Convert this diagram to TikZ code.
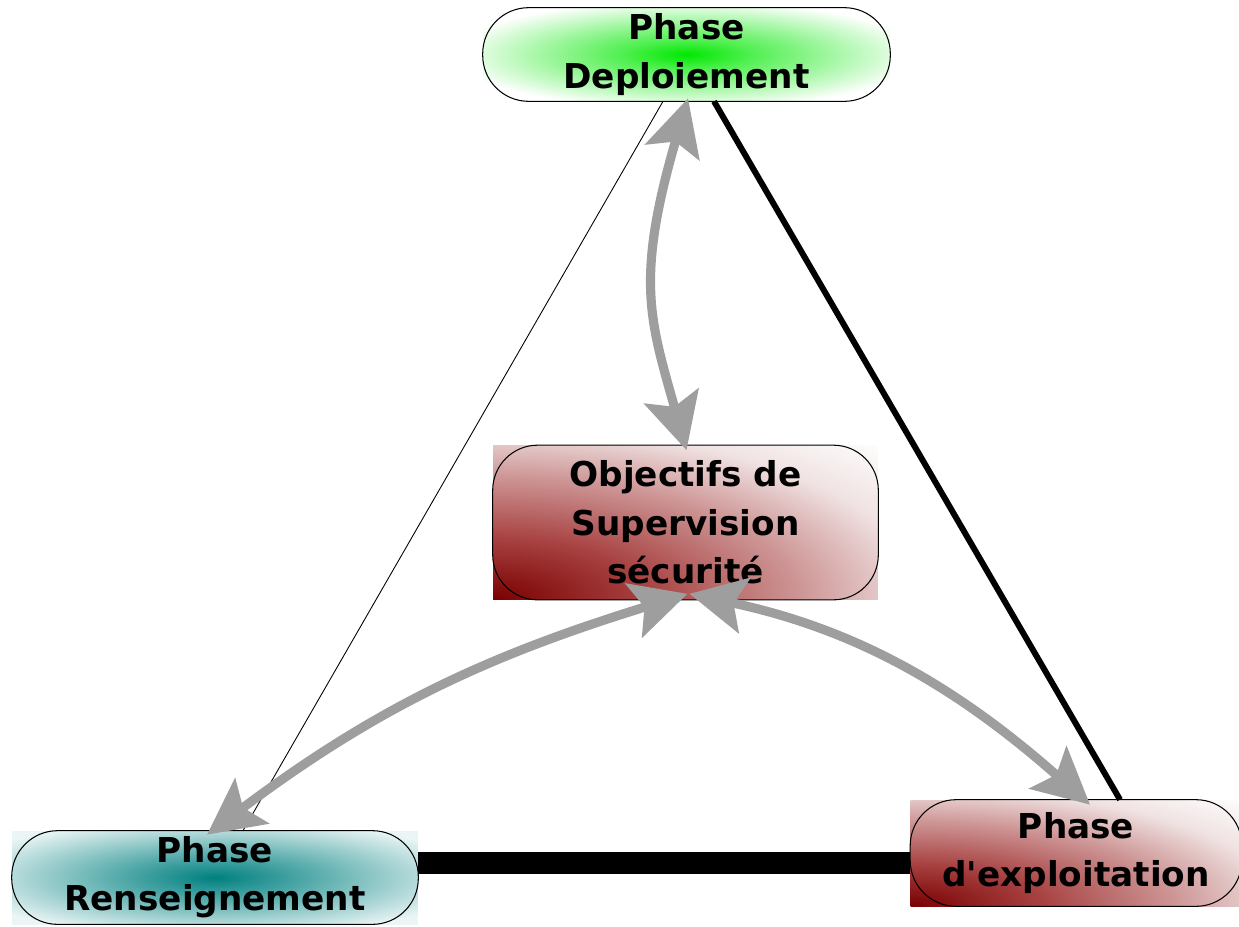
\documentclass[tikz,border=0pt]{standalone}
\usepackage{fontspec}
\setmainfont{DejaVu Sans}
\usetikzlibrary{arrows.meta,calc}
\definecolor{deepgreen}{RGB}{0,232,0}
\definecolor{deepteal}{RGB}{0,128,128}
\definecolor{deepred}{RGB}{122,0,0}
\definecolor{midred}{RGB}{168,66,66}
\definecolor{lightred}{RGB}{206,150,150}
\definecolor{palered}{RGB}{240,226,226}
\definecolor{arrowgray}{RGB}{158,158,158}
% glow shadings: 25bp is the half side of the shaded box
\pgfdeclareradialshading{greenglow}{\pgfpoint{0bp}{0bp}}{%
  color(0bp)=(deepgreen); color(8bp)=(deepgreen!68!white); color(29bp)=(white); color(50bp)=(white)}
\pgfdeclareradialshading{tealglow}{\pgfpoint{0bp}{0bp}}{%
  color(0bp)=(deepteal); color(9bp)=(deepteal!75!white); color(32bp)=(deepteal!8!white); color(50bp)=(deepteal!8!white)}
\pgfdeclareradialshading{redglow}{\pgfpoint{0bp}{0bp}}{%
  color(0bp)=(deepred); color(10bp)=(midred); color(20bp)=(lightred); color(28bp)=(palered); color(36bp)=(white); color(50bp)=(white)}
\tikzset{
  phasetext/.style={font=\bfseries\fontsize{19.5}{27.5}\selectfont, align=center, text=black, inner sep=0pt},
  pillborder/.style={draw=black, line width=0.6pt},
  greenbox/.style={shading=greenglow},
  tealbox/.style={shading=tealglow},
  redbox/.style={path picture={
      \shade[shading=redglow]
        ($(path picture bounding box.south west)!-1!(path picture bounding box.north east)$)
        rectangle (path picture bounding box.north east);}},
  linkarrow/.style={draw=arrowgray, line width=5.2pt,
    {Stealth[length=1.12cm,width=1.12cm,inset=0.22cm]}-{Stealth[length=1.12cm,width=1.12cm,inset=0.22cm]}},
}
\begin{document}
\begin{tikzpicture}[x=0.02cm,y=-0.02cm]
\useasboundingbox[fill=white] (0,0) rectangle (1239,926);

% phase boxes (shaded fill, text inside)
\node[phasetext, greenbox, minimum width=8.14cm, minimum height=1.86cm] (dep) at (686.5,54.5) {Phase\\Deploiement};
\node[phasetext, redbox, minimum width=7.7cm, minimum height=3.08cm] (obj) at (685.5,522.5) {Objectifs de\\Supervision\\sécurité};
\node[phasetext, tealbox, minimum width=8.12cm, minimum height=1.86cm] (ren) at (215,877.5) {Phase\\Renseignement};
\node[phasetext, redbox, minimum width=6.62cm, minimum height=2.12cm] (exp) at (1076,853) {Phase\\d\textquotesingle exploitation};

% rounded outlines
\draw[pillborder, rounded corners=0.92cm] (dep.south west) rectangle (dep.north east);
\draw[pillborder, rounded corners=0.9cm] (obj.south west) rectangle (obj.north east);
\draw[pillborder, rounded corners=0.92cm] (ren.south west) rectangle (ren.north east);
\draw[pillborder, rounded corners=0.92cm] (exp.south west) rectangle (exp.north east);

% links between phases
\draw[black, line width=0.5pt] ($(dep.south)+(-23.5,0)$) -- ($(ren.north)+(28,0)$);
\draw[black, line width=3.4pt] ($(dep.south)+(27.5,0)$) -- ($(exp.north)+(44,0)$);
\coordinate (bar) at ($(ren.east)+(0,-14.5)$);
\draw[black, line width=12.8pt] (bar) -- (bar -| exp.west);

% links with the security objectives
\draw[linkarrow] ($(dep.south)+(1.5,-3)$) .. controls (635,280) and (650,320) .. ($(obj.north)+(1,5)$);
\draw[linkarrow] ($(obj.south)+(2,-6)$) .. controls (490,655) and (380,705) .. ($(ren.north)+(-8,4)$);
\draw[linkarrow] ($(obj.south)+(4,-6)$) .. controls (860,630) and (960,690) .. ($(exp.north)+(14,5)$);
\end{tikzpicture}
\end{document}
